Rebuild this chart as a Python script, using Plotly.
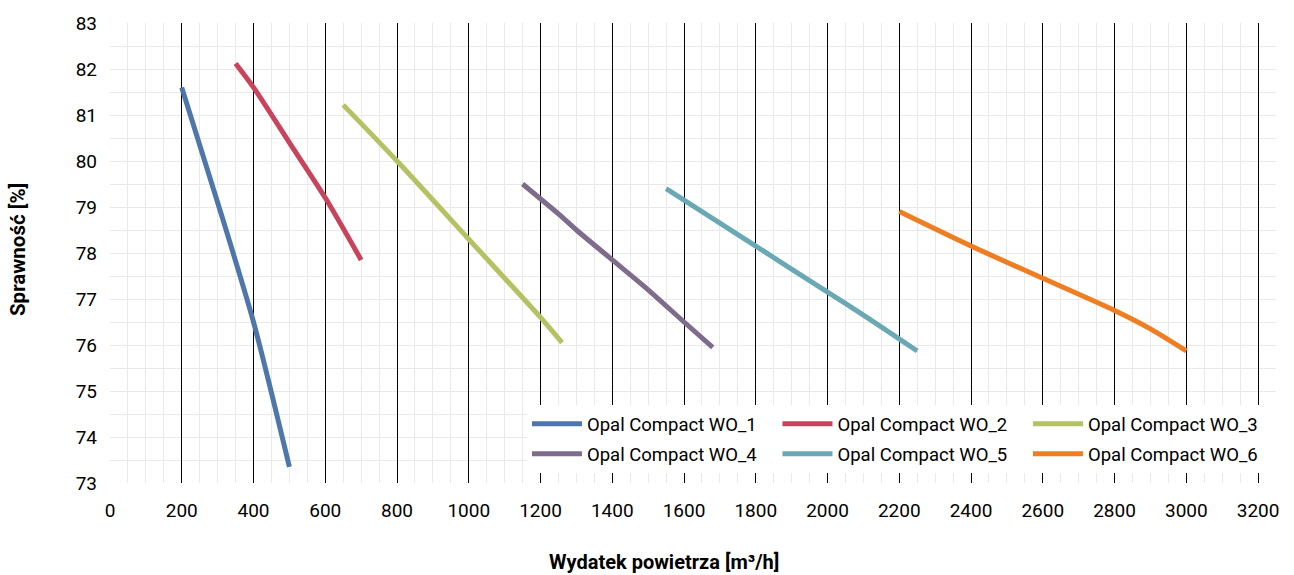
import plotly.graph_objects as go

names = ["Opal Compact WO_1", "Opal Compact WO_2", "Opal Compact WO_3",
         "Opal Compact WO_4", "Opal Compact WO_5", "Opal Compact WO_6"]
colors = ["#4f76aa", "#c8435c", "#b5c263", "#7f6b8c", "#6aa9b4", "#ef7d22"]
legend_rows = ["legend", "legend", "legend", "legend2", "legend2", "legend2"]

x1 = [200, 300, 400, 500]
y1 = [81.6, 79.1, 76.5, 73.35]
x2 = [350, 400, 500, 600, 700]
y2 = [82.12, 81.6, 80.4, 79.2, 77.85]
x3 = [650, 800, 1000, 1200, 1260]
y3 = [81.22, 80.0, 78.3, 76.6, 76.05]
x4 = [1150, 1250, 1300, 1400, 1500, 1600, 1680]
y4 = [79.5, 78.85, 78.5, 77.85, 77.2, 76.5, 75.95]
x5 = [1550, 1600, 1800, 2000, 2100, 2250]
y5 = [79.4, 79.15, 78.15, 77.15, 76.65, 75.87]
x6 = [2200, 2400, 2600, 2800, 2900, 3000]
y6 = [78.9, 78.15, 77.45, 76.75, 76.35, 75.87]

xs = [x1, x2, x3, x4, x5, x6]
ys = [y1, y2, y3, y4, y5, y6]

x_ticks = list(range(0, 3201, 200))
y_ticks = list(range(73, 84))
major_lines = list(range(200, 3201, 200))

x_title = "Wydatek powietrza [m³/h]"
y_title = "Sprawność [%]"

fig = go.Figure()
for n, c, x, y, lg in zip(names, colors, xs, ys, legend_rows):
    fig.add_trace(go.Scatter(x=x, y=y, name=n, mode="lines", legend=lg,
                             line=dict(color=c, width=5, shape="spline", smoothing=0.7)))

# invisible helper trace so the overlay axis (black major lines) is drawn
fig.add_trace(go.Scatter(x=[major_lines[0]], y=[y_ticks[0]], xaxis="x2", mode="markers",
                         marker=dict(opacity=0), showlegend=False, hoverinfo="skip"))

grid = "#e9e9e9"
leg_common = dict(orientation="h", xanchor="left", yanchor="top",
                  bgcolor="rgba(255,255,255,1)", entrywidth=185.5, entrywidthmode="pixels",
                  itemwidth=50, font=dict(size=18.5), borderwidth=0)
fig.update_layout(
    width=1294, height=575,
    margin=dict(l=110, r=18, t=23, b=92, autoexpand=False),
    paper_bgcolor="white", plot_bgcolor="white",
    font=dict(family="Roboto", size=19, color="black"),
    xaxis=dict(range=[0, 3250], tickvals=x_ticks, showgrid=True, gridcolor=grid, gridwidth=1,
               minor=dict(dtick=50, tick0=0, showgrid=True, gridcolor=grid, gridwidth=1),
               zeroline=False, showline=False, ticks="", ticklabelstandoff=14, automargin=False,
               tickfont=dict(size=19)),
    xaxis2=dict(range=[0, 3250], overlaying="x", side="bottom", tickvals=major_lines,
                showticklabels=False, showgrid=True, gridcolor="black", gridwidth=1,
                zeroline=False, showline=False, ticks="", automargin=False),
    yaxis=dict(range=[73, 83], tickvals=y_ticks, showgrid=True, gridcolor=grid, gridwidth=1,
               minor=dict(dtick=0.5, tick0=73, showgrid=True, gridcolor=grid, gridwidth=1),
               zeroline=False, showline=False, ticks="", ticklabelstandoff=12, automargin=False,
               tickfont=dict(size=19)),
    legend=dict(x=0.3576, y=0.169, **leg_common),
    legend2=dict(x=0.3576, y=0.104, **leg_common),
    showlegend=True,
    annotations=[
        dict(text=x_title, xref="paper", yref="paper", x=0.475, y=-0.172,
             xanchor="center", yanchor="middle", showarrow=False,
             font=dict(size=20, family="Roboto", weight="bold")),
        dict(text=y_title, xref="paper", yref="paper", x=-0.0789, y=0.5065, textangle=-90,
             xanchor="center", yanchor="middle", showarrow=False,
             font=dict(size=20.5, family="Roboto", weight="bold")),
    ],
)

fig.write_html("out.html")
